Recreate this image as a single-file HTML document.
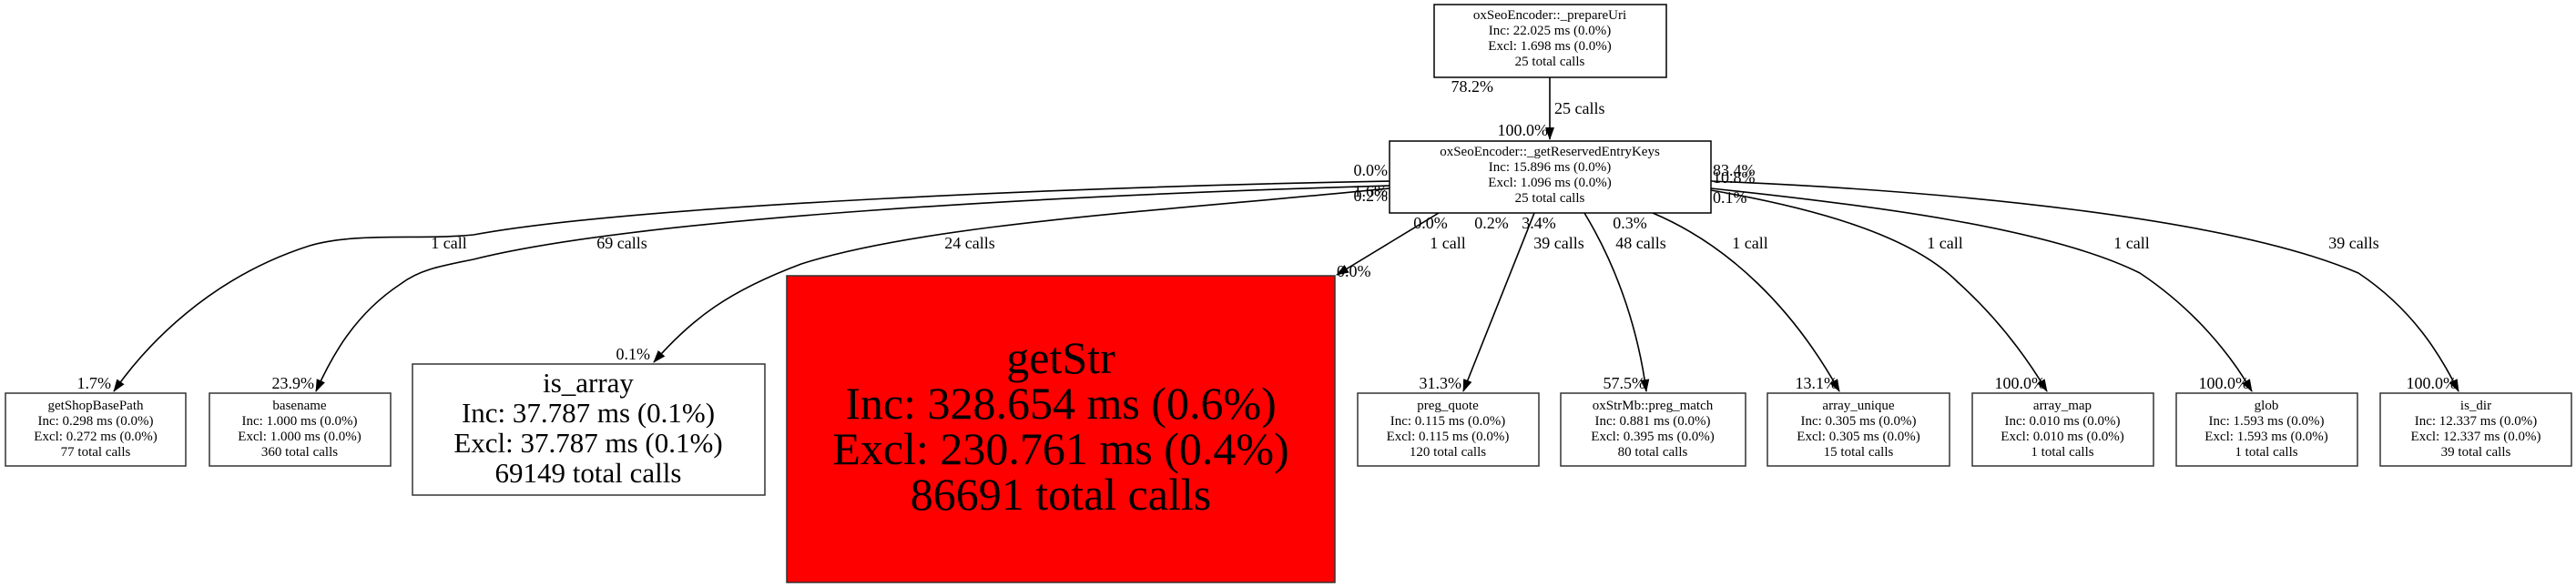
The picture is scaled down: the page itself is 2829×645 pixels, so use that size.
<!DOCTYPE html>
<html><head><meta charset="utf-8"><style>
html,body{margin:0;padding:0;background:#fff;}
svg{display:block;font-family:"Liberation Serif",serif;}
</style></head><body>
<svg width="2829" height="645" viewBox="0 0 2829 645" xmlns="http://www.w3.org/2000/svg">
<defs><marker id="a" markerWidth="10" markerHeight="10" refX="9" refY="5" orient="auto" markerUnits="userSpaceOnUse" viewBox="0 0 10 10"><path d="M0,0 L10,5 L0,10 z" fill="#000"/></marker>
<marker id="b" markerWidth="14" markerHeight="14" refX="13" refY="7" orient="auto" markerUnits="userSpaceOnUse" viewBox="0 0 14 14"><path d="M0,2 L14,7 L0,12 z" fill="#000"/></marker></defs>
<g fill="none" stroke="#000" stroke-width="1.6">
<path d="M1702,85 L1702,153" marker-end="url(#b)"/>
<path d="M1526,199 C1200,205 700,225 520,258 C460,264 390,255 340,270 C230,305 160,380 125,430" marker-end="url(#b)"/>
<path d="M1526,204 C1150,215 700,240 520,285 C480,293 460,297 440,312 C390,345 365,390 347,430" marker-end="url(#b)"/>
<path d="M1526,207 C1300,230 1020,245 880,290 C800,320 760,350 718,398" marker-end="url(#b)"/>
<path d="M1580,234 L1468,302" marker-end="url(#b)"/>
<path d="M1685,234 L1607,430" marker-end="url(#b)"/>
<path d="M1740,234 C1780,300 1800,370 1808,430" marker-end="url(#b)"/>
<path d="M1815,234 C1900,270 1970,340 2020,430" marker-end="url(#b)"/>
<path d="M1879,209 C2000,230 2100,260 2150,310 C2200,355 2230,400 2248,430" marker-end="url(#b)"/>
<path d="M1879,207 C2050,225 2250,250 2350,300 C2410,340 2450,390 2473,430" marker-end="url(#b)"/>
<path d="M1879,199 C2150,210 2450,240 2590,300 C2650,340 2680,390 2700,430" marker-end="url(#b)"/>
</g>
<g stroke="#333" stroke-width="1.5" fill="#fff">
<rect x="1575" y="5" width="255" height="80" stroke="#000"/>
<rect x="1526" y="155" width="353" height="79" stroke="#000"/>
<rect x="6" y="432" width="198" height="80"/>
<rect x="230" y="432" width="199" height="80"/>
<rect x="453" y="400" width="387" height="144"/>
<rect x="864" y="303" width="602" height="337" fill="#ff0000"/>
<rect x="1491" y="432" width="199" height="80"/>
<rect x="1714" y="432" width="203" height="80"/>
<rect x="1941" y="432" width="200" height="80"/>
<rect x="2166" y="432" width="199" height="80"/>
<rect x="2390" y="432" width="199" height="80"/>
<rect x="2614" y="432" width="210" height="80"/>
</g>
<g font-size="15" text-anchor="middle" fill="#000">
<text x="1702" y="21">oxSeoEncoder::_prepareUri</text>
<text x="1702" y="38">Inc: 22.025 ms (0.0%)</text>
<text x="1702" y="55">Excl: 1.698 ms (0.0%)</text>
<text x="1702" y="72">25 total calls</text>
<text x="1702" y="171">oxSeoEncoder::_getReservedEntryKeys</text>
<text x="1702" y="188">Inc: 15.896 ms (0.0%)</text>
<text x="1702" y="205">Excl: 1.096 ms (0.0%)</text>
<text x="1702" y="222">25 total calls</text>
<text x="105" y="450">getShopBasePath</text><text x="105" y="467">Inc: 0.298 ms (0.0%)</text><text x="105" y="484">Excl: 0.272 ms (0.0%)</text><text x="105" y="501">77 total calls</text>
<text x="329" y="450">basename</text><text x="329" y="467">Inc: 1.000 ms (0.0%)</text><text x="329" y="484">Excl: 1.000 ms (0.0%)</text><text x="329" y="501">360 total calls</text>
<text x="1590" y="450">preg_quote</text><text x="1590" y="467">Inc: 0.115 ms (0.0%)</text><text x="1590" y="484">Excl: 0.115 ms (0.0%)</text><text x="1590" y="501">120 total calls</text>
<text x="1815" y="450">oxStrMb::preg_match</text><text x="1815" y="467">Inc: 0.881 ms (0.0%)</text><text x="1815" y="484">Excl: 0.395 ms (0.0%)</text><text x="1815" y="501">80 total calls</text>
<text x="2041" y="450">array_unique</text><text x="2041" y="467">Inc: 0.305 ms (0.0%)</text><text x="2041" y="484">Excl: 0.305 ms (0.0%)</text><text x="2041" y="501">15 total calls</text>
<text x="2265" y="450">array_map</text><text x="2265" y="467">Inc: 0.010 ms (0.0%)</text><text x="2265" y="484">Excl: 0.010 ms (0.0%)</text><text x="2265" y="501">1 total calls</text>
<text x="2489" y="450">glob</text><text x="2489" y="467">Inc: 1.593 ms (0.0%)</text><text x="2489" y="484">Excl: 1.593 ms (0.0%)</text><text x="2489" y="501">1 total calls</text>
<text x="2719" y="450">is_dir</text><text x="2719" y="467">Inc: 12.337 ms (0.0%)</text><text x="2719" y="484">Excl: 12.337 ms (0.0%)</text><text x="2719" y="501">39 total calls</text>
</g>
<g font-size="31" text-anchor="middle">
<text x="646" y="431">is_array</text><text x="646" y="464">Inc: 37.787 ms (0.1%)</text><text x="646" y="497">Excl: 37.787 ms (0.1%)</text><text x="646" y="530">69149 total calls</text>
</g>
<g font-size="50" text-anchor="middle">
<text x="1165" y="410">getStr</text><text x="1165" y="460">Inc: 328.654 ms (0.6%)</text><text x="1165" y="510">Excl: 230.761 ms (0.4%)</text><text x="1165" y="560">86691 total calls</text>
</g>
<g font-size="18" fill="#000">
<text x="1640" y="101" text-anchor="end">78.2%</text>
<text x="1707" y="125">25 calls</text>
<text x="1700" y="149" text-anchor="end">100.0%</text>
<text x="1524" y="193" text-anchor="end">0.0%</text>
<text x="1524" y="216" text-anchor="end">1.6%</text>
<text x="1524" y="221" text-anchor="end">0.2%</text>
<text x="1881" y="193">83.4%</text>
<text x="1881" y="201">10.8%</text>
<text x="1881" y="223">0.1%</text>
<text x="1571" y="251" text-anchor="middle">0.0%</text>
<text x="1638" y="251" text-anchor="middle">0.2%</text>
<text x="1690" y="251" text-anchor="middle">3.4%</text>
<text x="1790" y="251" text-anchor="middle">0.3%</text>
<text x="493" y="273" text-anchor="middle">1 call</text>
<text x="683" y="273" text-anchor="middle">69 calls</text>
<text x="1065" y="273" text-anchor="middle">24 calls</text>
<text x="1590" y="273" text-anchor="middle">1 call</text>
<text x="1712" y="273" text-anchor="middle">39 calls</text>
<text x="1802" y="273" text-anchor="middle">48 calls</text>
<text x="1922" y="273" text-anchor="middle">1 call</text>
<text x="2136" y="273" text-anchor="middle">1 call</text>
<text x="2341" y="273" text-anchor="middle">1 call</text>
<text x="2585" y="273" text-anchor="middle">39 calls</text>
<text x="1468" y="304">0.0%</text>
<text x="122" y="427" text-anchor="end">1.7%</text>
<text x="345" y="427" text-anchor="end">23.9%</text>
<text x="714" y="395" text-anchor="end">0.1%</text>
<text x="1605" y="427" text-anchor="end">31.3%</text>
<text x="1807" y="427" text-anchor="end">57.5%</text>
<text x="2018" y="427" text-anchor="end">13.1%</text>
<text x="2246" y="427" text-anchor="end">100.0%</text>
<text x="2470" y="427" text-anchor="end">100.0%</text>
<text x="2698" y="427" text-anchor="end">100.0%</text>
</g>
</svg>
</body></html>
